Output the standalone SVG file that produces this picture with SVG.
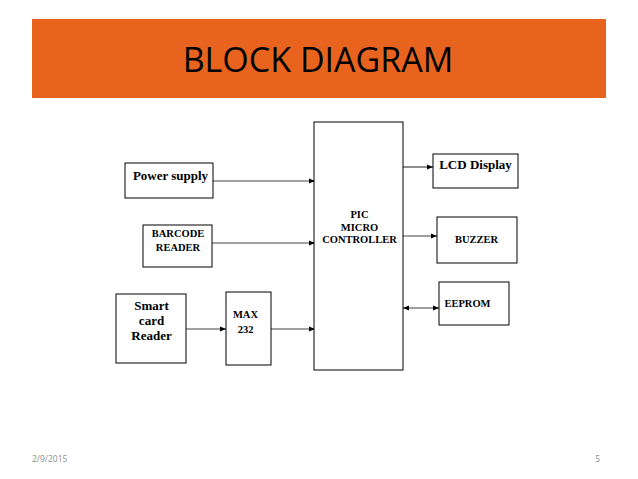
<svg xmlns="http://www.w3.org/2000/svg" width="638" height="479" viewBox="0 0 638 479">
<defs>
<style>
.box{fill:#fff;stroke:#000;stroke-width:1}
.lbl{font-family:"Liberation Serif","Times New Roman",serif;font-weight:bold;font-size:10.5px;fill:#000;text-anchor:middle}
.big{font-size:13px}
.ln{stroke:#444;stroke-width:1.2;fill:none}
.ft{font-family:"Open Sans","Liberation Sans",sans-serif;font-size:8.5px;fill:#8c8c8c}
</style>
<marker id="ah" viewBox="0 0 10 10" refX="10" refY="5" markerWidth="6" markerHeight="6" orient="auto-start-reverse" markerUnits="userSpaceOnUse">
<path d="M0,1 L10,5 L0,9 z" fill="#000"/>
</marker>
</defs>
<rect width="638" height="479" fill="#fff"/>
<g id="header">
<rect x="32" y="19" width="574" height="79" fill="#E8631E"/>
<text x="318" y="72" font-family="Open Sans,Liberation Sans,sans-serif" font-size="34" text-anchor="middle" fill="#000">BLOCK DIAGRAM</text>
</g>
<g id="connectors">
<line class="ln" x1="213" y1="181" x2="315" y2="181" marker-end="url(#ah)"/>
<line class="ln" x1="212" y1="243" x2="315" y2="243" marker-end="url(#ah)"/>
<line class="ln" x1="186" y1="329" x2="226" y2="329" marker-end="url(#ah)"/>
<line class="ln" x1="271" y1="329" x2="315" y2="329" marker-end="url(#ah)"/>
<line class="ln" x1="403" y1="167" x2="433" y2="167" marker-end="url(#ah)"/>
<line class="ln" x1="403" y1="236" x2="437" y2="236" marker-end="url(#ah)"/>
<line class="ln" x1="403" y1="308" x2="439" y2="308" marker-start="url(#ah)" marker-end="url(#ah)"/>
</g>
<g id="power">
<rect class="box" x="125" y="163" width="88" height="35"/>
<text class="lbl big" x="170.5" y="180">Power supply</text>
</g>
<g id="barcode">
<rect class="box" x="143" y="225" width="69" height="42"/>
<text class="lbl" x="178" y="237">BARCODE</text>
<text class="lbl" x="178" y="251">READER</text>
</g>
<g id="smartcard">
<rect class="box" x="116" y="294" width="70" height="69"/>
<text class="lbl big" x="151.5" y="310">Smart</text>
<text class="lbl big" x="151.5" y="325">card</text>
<text class="lbl big" x="151.5" y="340">Reader</text>
</g>
<g id="max232">
<rect class="box" x="226" y="292" width="45" height="73"/>
<text class="lbl" x="245.5" y="318" font-size="11.5">MAX</text>
<text class="lbl" x="245.5" y="333" font-size="11.5">232</text>
</g>
<g id="pic">
<rect class="box" x="314" y="122" width="89" height="248"/>
<text class="lbl" x="359.5" y="218">PIC</text>
<text class="lbl" x="359.5" y="231">MICRO</text>
<text class="lbl" x="359.5" y="243">CONTROLLER</text>
</g>
<g id="lcd">
<rect class="box" x="433" y="154" width="85" height="34"/>
<text class="lbl big" x="475.5" y="169">LCD Display</text>
</g>
<g id="buzzer">
<rect class="box" x="437" y="217" width="80" height="46"/>
<text class="lbl" x="476.5" y="243">BUZZER</text>
</g>
<g id="eeprom">
<rect class="box" x="439" y="282" width="70" height="43"/>
<text class="lbl" x="467.5" y="307" font-size="11.5">EEPROM</text>
</g>
<g id="footer">
<text class="ft" x="32" y="462">2/9/2015</text>
<text class="ft" x="600" y="462" text-anchor="end">5</text>
</g>
</svg>
